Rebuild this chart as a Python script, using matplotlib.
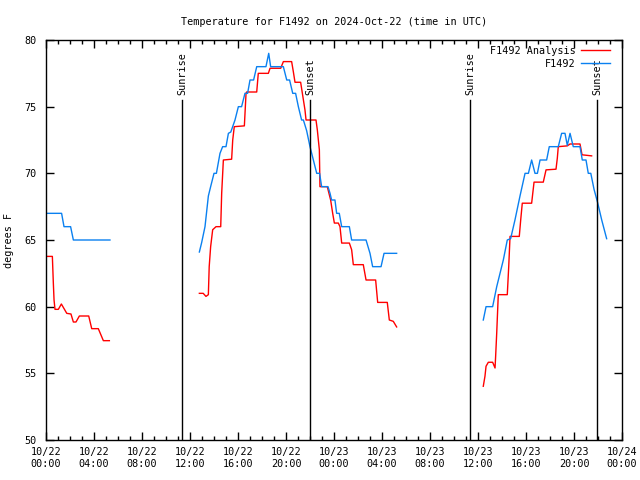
import matplotlib
matplotlib.use('Agg')
import numpy as np
import matplotlib.pyplot as plt

# hours since 2024-10-22 00:00 UTC; nan separates the data gaps
obs_hours = [0.0, 1.3, 1.5, 2.05, 2.28, 5.33, np.nan,
             12.78, 12.97, 13.25, 13.53, 13.72, 14.0, 14.2, 14.5, 14.72, 15.0, 15.2, 15.4,
             15.75, 16.03, 16.3, 16.58, 16.8, 17.0, 17.3, 17.56, 18.33, 18.56, 18.72, 19.78,
             20.06, 20.3, 20.56, 20.8, 21.03, 21.3, 21.45, 21.72, 22.0, 22.28, 22.56, 22.8,
             22.97, 23.5, 23.67, 23.8, 24.08, 24.22, 24.44, 24.64, 25.28, 25.47, 26.67,
             27.0, 27.22, 27.92, 28.17, 29.22, np.nan,
             36.44, 36.67, 37.22, 37.56, 38.11, 38.44, 38.72, 39.08, 39.5, 39.92, 40.2,
             40.47, 40.75, 40.95, 41.17, 41.72, 41.94, 42.69, 42.97, 43.25, 43.44, 43.67,
             43.94, 44.5, 44.69, 45.0, 45.19, 45.4, 45.67, 45.97, 46.31, 46.72]
obs_temp = [67, 67, 66, 66, 65, 65, np.nan,
            64.1, 64.8, 66.0, 68.3, 69.0, 70.0, 70.0, 71.5, 72.0, 72.0, 73.0, 73.1,
            74.0, 75.0, 75.0, 76.0, 76.0, 77.0, 77.0, 78.0, 78.0, 79.0, 78.0, 78.0,
            77.0, 77.0, 76.0, 76.0, 75.0, 74.0, 74.0, 73.2, 72.0, 71.0, 70.0, 70.0,
            69.0, 69.0, 68.5, 68.0, 68.0, 67.0, 67.0, 66.0, 66.0, 65.0, 65.0,
            64.0, 63.0, 63.0, 64.0, 64.0, np.nan,
            59.0, 60.0, 60.0, 61.5, 63.5, 65.0, 65.1, 66.5, 68.3, 70.0, 70.0,
            71.0, 70.0, 70.0, 71.0, 71.0, 72.0, 72.0, 73.0, 73.0, 72.1, 73.0,
            72.0, 72.0, 71.0, 71.0, 70.0, 70.0, 68.8, 67.8, 66.5, 65.1]

ana_hours = [0.0, 0.53, 0.61, 0.67, 0.75, 1.03, 1.28, 1.73, 2.08, 2.28, 2.5, 2.78, 3.56,
             3.81, 4.36, 4.5, 4.78, 5.28, np.nan,
             12.78, 13.1, 13.33, 13.53, 13.6, 13.72, 13.89, 14.17, 14.56, 14.64, 14.78,
             15.47, 15.56, 15.69, 16.53, 16.67, 16.72, 17.56, 17.69, 18.53, 18.67, 19.56,
             19.78, 20.47, 20.61, 20.75, 21.22, 21.58, 21.67, 22.5, 22.61, 22.78, 22.83,
             23.44, 23.72, 23.89, 24.03, 24.36, 24.5, 24.64, 25.28, 25.47, 25.61, 26.44,
             26.67, 27.47, 27.64, 28.44, 28.61, 28.94, 29.22, np.nan,
             36.44, 36.58, 36.67, 36.86, 37.22, 37.42, 37.47, 37.56, 37.69, 38.44, 38.56,
             38.67, 39.44, 39.56, 39.69, 40.47, 40.67, 41.44, 41.67, 42.5, 42.61, 42.69,
             43.44, 43.67, 44.5, 44.67, 45.47]
ana_temp = [63.77, 63.77, 61.8, 60.5, 59.8, 59.8, 60.2, 59.5, 59.45, 58.85, 58.85, 59.3, 59.3,
            58.35, 58.35, 58.05, 57.45, 57.45, np.nan,
            61.0, 61.0, 60.77, 60.9, 63.0, 64.5, 65.77, 66.0, 66.0, 68.5, 71.0,
            71.06, 72.5, 73.5, 73.56, 76.0, 76.1, 76.1, 77.5, 77.5, 77.88, 77.88,
            78.38, 78.38, 77.63, 76.83, 76.83, 74.76, 74.0, 74.0, 73.26, 71.76, 69.0,
            69.0, 68.0, 67.0, 66.27, 66.27, 66.0, 64.77, 64.77, 64.27, 63.15, 63.15,
            62.0, 62.0, 60.32, 60.32, 59.0, 58.9, 58.48, np.nan,
            54.03, 54.78, 55.53, 55.83, 55.83, 55.4, 56.28, 58.03, 60.9, 60.9, 63.0,
            65.27, 65.27, 66.52, 67.76, 67.76, 69.34, 69.34, 70.26, 70.31, 71.14, 72.0,
            72.06, 72.2, 72.2, 71.39, 71.31]

sun_hours = [11.33, 22.0, 35.33, 45.94]
sun_labels = ['Sunrise', 'Sunset', 'Sunrise', 'Sunset']

tick_hours = list(range(0, 49, 4))
tick_labels = ['10/22\n00:00', '10/22\n04:00', '10/22\n08:00', '10/22\n12:00', '10/22\n16:00',
               '10/22\n20:00', '10/23\n00:00', '10/23\n04:00', '10/23\n08:00', '10/23\n12:00',
               '10/23\n16:00', '10/23\n20:00', '10/24\n00:00']

plt.rcParams['font.family'] = ['DejaVu Sans Mono']
plt.rcParams['font.size'] = 7.3

fig = plt.figure(figsize=(6.4, 4.8), dpi=100)
ax = fig.add_axes([46 / 640, 40 / 480, 576 / 640, 400 / 480])

ax.plot(ana_hours, ana_temp, color='#ff0000', lw=1.0, label='F1492 Analysis')
ax.plot(obs_hours, obs_temp, color='#0a80f0', lw=1.0, label='F1492')

for h, lab in zip(sun_hours, sun_labels):
    ax.plot([h, h], [50, 75.5], color='black', lw=1.0)
    ax.text(h, 75.9, lab, rotation=90, ha='center', va='bottom')

ax.set_xlim(0, 48)
ax.set_ylim(50, 80)
ax.set_xticks(tick_hours)
ax.set_xticklabels(tick_labels)
ax.set_xticks(range(0, 49), minor=True)
ax.set_yticks(range(50, 81, 5))
ax.tick_params(which='both', direction='in', top=True, right=True, width=1.0)
ax.tick_params(which='major', length=6, pad=5)
ax.tick_params(which='minor', length=3)
ax.tick_params(axis='y', pad=7)
for s in ax.spines.values():
    s.set_linewidth(1.0)

ax.set_ylabel('degrees F')
ax.yaxis.set_label_coords(-0.055, 0.5)
ax.set_title('Temperature for F1492 on 2024-Oct-22 (time in UTC)', pad=11, fontsize=7.3)

leg = ax.legend(loc='upper right', bbox_to_anchor=(0.979, 0.986), frameon=False,
                markerfirst=False, handlelength=2.9, handletextpad=0.5, labelspacing=0.3,
                borderaxespad=0, borderpad=0)
for t in leg.get_texts():
    t.set_ha('right')

fig.savefig('out.png', dpi=100)
